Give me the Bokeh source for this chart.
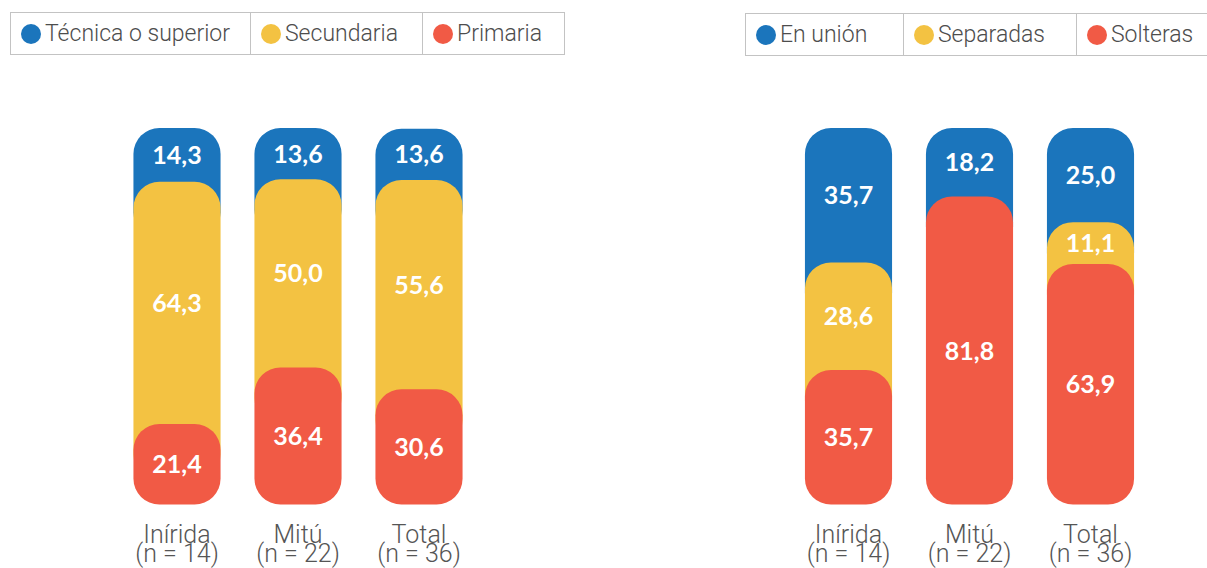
from bokeh.plotting import figure
from bokeh.models import ColumnDataSource, Range1d, Legend, LegendItem
from bokeh.layouts import row
from bokeh.embed import file_html
from bokeh.resources import INLINE
from bokeh.core.properties import value

# ---------------- data ----------------
categories = ["Inírida", "Mitú", "Total"]
sample_labels = ["(n = 14)", "(n = 22)", "(n = 36)"]

edu_series = ["Técnica o superior", "Secundaria", "Primaria"]
edu_tecnica = [14.3, 13.6, 13.6]
edu_secundaria = [64.3, 50.0, 55.6]
edu_primaria = [21.4, 36.4, 30.6]

civil_series = ["En unión", "Separadas", "Solteras"]
civil_union = [35.7, 18.2, 25.0]
civil_separadas = [28.6, 0.0, 11.1]
civil_solteras = [35.7, 81.8, 63.9]

colors = ["#1b75bc", "#f3c242", "#f15a45"]

# ---------------- layout constants ----------------
H = 568
BAR_BOTTOM_PX = 504      # canvas y of value 0
PX_PER_UNIT = 3.765      # pixels per percentage point
SLOT_PX = 121            # pixels between bar centres
EXT = 15                 # overlap of a segment under the one below it (units)
LABEL_FONT = "Roboto Light, Roboto"
VALUE_FONT = "Lato"


def fmt(v):
    return f"{v:.1f}".replace(".", ",")


def make_panel(series_names, series_values, width, first_center_px, legend_lefts, legend_widths, legend_top):
    x_start = -first_center_px / SLOT_PX
    x_end = x_start + width / SLOT_PX
    y_start = -(H - BAR_BOTTOM_PX) / PX_PER_UNIT
    y_end = BAR_BOTTOM_PX / PX_PER_UNIT
    p = figure(width=width, height=H, x_range=Range1d(x_start, x_end),
               y_range=Range1d(y_start, y_end), output_backend="svg", toolbar_location=None,
               x_axis_location=None, y_axis_location=None,
               min_border=0)
    p.outline_line_color = None
    p.background_fill_color = "white"
    p.border_fill_color = "white"
    p.xgrid.grid_line_color = None
    p.ygrid.grid_line_color = None

    xpos = list(range(len(categories)))
    n = len(series_values)
    bottoms, tops = [], []
    for si in range(n):
        b = [sum(series_values[k][ci] for k in range(si + 1, n)) for ci in range(len(categories))]
        t = [b[ci] + series_values[si][ci] for ci in range(len(categories))]
        bottoms.append(b)
        tops.append(t)

    lx, ly, lt = [], [], []
    for si in range(n):
        xs, top, bot = [], [], []
        for ci in range(len(categories)):
            v = series_values[si][ci]
            if v <= 0:
                continue
            xs.append(xpos[ci])
            top.append(tops[si][ci])
            bot.append(0 if si == n - 1 else max(bottoms[si][ci] - EXT, 0))
            lx.append(xpos[ci])
            ly.append((tops[si][ci] + bottoms[si][ci]) / 2)
            lt.append(fmt(v))
        src = ColumnDataSource(dict(x=xs, top=top, bottom=bot))
        p.vbar(x="x", top="top", bottom="bottom", width=0.72, source=src,
               fill_color=colors[si], line_color=None, border_radius=26)

    lsrc = ColumnDataSource(dict(x=lx, y=ly, t=lt))
    p.text(x="x", y="y", text="t", source=lsrc, text_color="white",
           text_font=value(VALUE_FONT), text_font_style="bold", text_font_size="25px",
           text_align="center", text_baseline="middle")

    csrc = ColumnDataSource(dict(x=xpos, y=[0] * len(categories), name=categories, n=sample_labels))
    p.text(x="x", y="y", text="name", source=csrc, y_offset=30, text_color="#555555",
           text_font=value(LABEL_FONT), text_font_size="25px",
           text_align="center", text_baseline="alphabetic")
    p.text(x="x", y="y", text="n", source=csrc, y_offset=49, text_color="#555555",
           text_font=value(LABEL_FONT), text_font_size="25px",
           text_align="center", text_baseline="alphabetic")

    # legend: one boxed cell per series
    for si, name in enumerate(series_names):
        r = p.ellipse(x=[0], y=[float("nan")], width=20, height=20,
                      width_units="screen", height_units="screen",
                      fill_color=colors[si], line_color=None)
        cell_w = legend_widths[si]
        leg = Legend(items=[LegendItem(label=name, renderers=[r])],
                     location=(legend_lefts[si], H - legend_top - 42),
                     orientation="horizontal", padding=7, spacing=0, margin=0,
                     glyph_width=25, glyph_height=25, label_standoff=2,
                     label_width=cell_w - 41, label_height=25,
                     label_text_font=LABEL_FONT, label_text_font_size="23px",
                     label_text_color="#4d4d4d", border_line_color="#888888",
                     border_line_width=1.5, background_fill_color="white",
                     background_fill_alpha=1.0)
        p.add_layout(leg)
    return p


left = make_panel(edu_series, [edu_tecnica, edu_secundaria, edu_primaria],
                  width=608, first_center_px=176.5,
                  legend_lefts=[10, 250, 422], legend_widths=[240, 172, 141], legend_top=13)
right = make_panel(civil_series, [civil_union, civil_separadas, civil_solteras],
                   width=599, first_center_px=240,
                   legend_lefts=[137, 295, 468], legend_widths=[158, 173, 141], legend_top=14)

layout = row(left, right)
open("out.html", "w").write(file_html(layout, INLINE))
